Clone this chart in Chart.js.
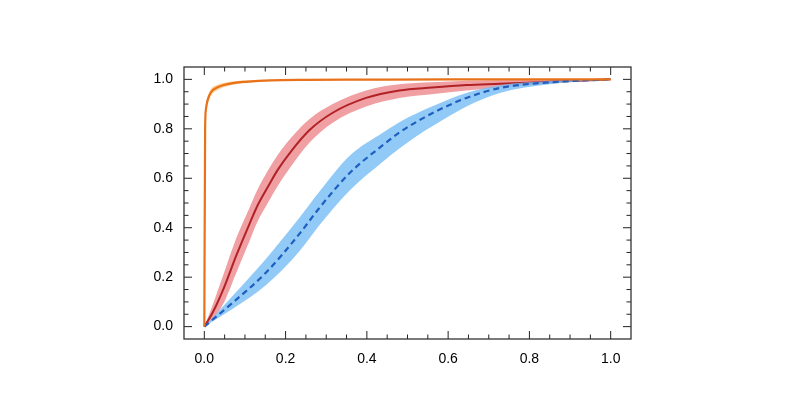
<!DOCTYPE html>
<html>
<head>
<meta charset="utf-8">
<script src="https://cdn.jsdelivr.net/npm/chart.js@4"></script>
<style>
    html, body { margin: 0; padding: 0; background: #fff; }
    #wrap { width: 800px; height: 411px; position: relative; }
</style>
</head>
<body>
<div id="wrap"><canvas id="chart"></canvas></div>
<script>
const tickValues = [0.0, 0.2, 0.4, 0.6, 0.8, 1.0];
const minorStep = 0.05;

const redX    = [0, 0.02, 0.049, 0.078, 0.111, 0.131, 0.158, 0.181, 0.214, 0.259, 0.316, 0.398, 0.48, 0.56, 0.645, 0.727, 0.85, 1.0];
const redMean = [0, 0.055, 0.16, 0.285, 0.415, 0.49, 0.57, 0.635, 0.71, 0.795, 0.865, 0.925, 0.955, 0.967, 0.977, 0.982, 0.99, 1.0];
const redLow  = [0, 0.03, 0.1, 0.215, 0.345, 0.425, 0.505, 0.57, 0.65, 0.745, 0.825, 0.89, 0.925, 0.94, 0.955, 0.967, 0.982, 1.0];
const redHigh = [0, 0.085, 0.22, 0.355, 0.48, 0.555, 0.635, 0.695, 0.765, 0.84, 0.9, 0.955, 0.98, 0.988, 0.994, 0.996, 0.998, 1.0];

const blueX    = [0, 0.07, 0.152, 0.234, 0.283, 0.357, 0.44, 0.48, 0.522, 0.563, 0.645, 0.727, 0.85, 1.0];
const blueMean = [0, 0.097, 0.219, 0.375, 0.48, 0.62, 0.735, 0.785, 0.828, 0.865, 0.925, 0.965, 0.988, 1.0];
const blueLow  = [0, 0.072, 0.168, 0.305, 0.41, 0.55, 0.668, 0.72, 0.77, 0.812, 0.89, 0.945, 0.98, 1.0];
const blueHigh = [0, 0.125, 0.275, 0.44, 0.545, 0.69, 0.785, 0.827, 0.862, 0.892, 0.945, 0.976, 0.993, 1.0];

const orangeX    = [0, 0.002, 0.004, 0.008, 0.016, 0.033, 0.05, 0.074, 0.1, 0.164, 0.25, 0.4, 0.6, 0.8, 1.0];
const orangeMean = [0, 0.8, 0.88, 0.915, 0.947, 0.968, 0.978, 0.986, 0.99, 0.996, 0.998, 0.999, 1.0, 1.0, 1.0];
const orangeLow  = [0, 0.78, 0.86, 0.9, 0.933, 0.957, 0.969, 0.979, 0.985, 0.993, 0.996, 0.998, 1.0, 1.0, 1.0];
const orangeHigh = [0, 0.82, 0.9, 0.93, 0.96, 0.978, 0.986, 0.992, 0.995, 0.998, 0.999, 1.0, 1.0, 1.0, 1.0];

function toPoints(xs, ys) {
    return xs.map((x, i) => ({ x, y: ys[i] }));
}

// low bound, high bound filled down to it, then the mean line on top
// lower `order` is drawn later (on top) in Chart.js
function bandDatasets(xs, low, high, mean, bandColor, lineColor, lineWidth, dash, order) {
    return [
        {
            data: toPoints(xs, low),
            borderWidth: 0,
            borderColor: 'transparent',
            pointRadius: 0,
            fill: false,
            order: order + 2,
            cubicInterpolationMode: 'monotone'
        },
        {
            data: toPoints(xs, high),
            borderWidth: 0,
            borderColor: 'transparent',
            backgroundColor: bandColor,
            pointRadius: 0,
            fill: '-1',
            order: order + 1,
            cubicInterpolationMode: 'monotone'
        },
        {
            data: toPoints(xs, mean),
            borderColor: lineColor,
            borderWidth: lineWidth,
            borderDash: dash,
            pointRadius: 0,
            fill: false,
            order,
            cubicInterpolationMode: 'monotone'
        }
    ];
}

// inward ticks on all four sides plus the box
const frameTicks = {
    id: 'frameTicks',
    afterDraw(chart) {
        const { ctx, chartArea: a, scales } = chart;
        const xs = scales.x;
        const ys = scales.y;
        ctx.save();
        ctx.strokeStyle = '#222';
        ctx.lineWidth = 1;
        const minors = [];
        for (let v = 0; v <= 1.0001; v += minorStep) {
            minors.push(Math.round(v * 100) / 100);
        }
        for (const v of minors) {
            const major = tickValues.some((t) => Math.abs(t - v) < 1e-6);
            const len = major ? 8 : 4.5;
            const px = xs.getPixelForValue(v);
            const py = ys.getPixelForValue(v);
            ctx.beginPath();
            ctx.moveTo(px, a.bottom);
            ctx.lineTo(px, a.bottom - len);
            ctx.moveTo(px, a.top);
            ctx.lineTo(px, a.top + len);
            ctx.moveTo(a.left, py);
            ctx.lineTo(a.left + len, py);
            ctx.moveTo(a.right, py);
            ctx.lineTo(a.right - len, py);
            ctx.stroke();
        }
        ctx.strokeStyle = '#333';
        ctx.lineWidth = 1.3;
        ctx.strokeRect(a.left, a.top, a.right - a.left, a.bottom - a.top);
        ctx.restore();
    }
};

function setTicks(scale) {
    scale.ticks = tickValues.map((value) => ({ value }));
}

const tickFont = { family: '"Liberation Sans", Arial, sans-serif', size: 14 };

new Chart(document.getElementById('chart'), {
    type: 'line',
    data: {
        datasets: [
            ...bandDatasets(redX, redLow, redHigh, redMean, 'rgba(230, 95, 102, 0.6)', '#b02226', 2, [], 7),
            ...bandDatasets(blueX, blueLow, blueHigh, blueMean, 'rgba(118, 188, 245, 0.8)', '#1f5fbf', 2.2, [6, 4], 4),
            ...bandDatasets(orangeX, orangeLow, orangeHigh, orangeMean, 'rgba(255, 175, 70, 0.6)', '#e8711a', 2.2, [], 1)
        ]
    },
    options: {
        responsive: true,
        maintainAspectRatio: false,
        animation: false,
        layout: {
            padding: { left: 140, right: 169, top: 67, bottom: 44 }
        },
        plugins: {
            legend: { display: false },
            tooltip: { enabled: false }
        },
        scales: {
            x: {
                type: 'linear',
                min: -0.05,
                max: 1.05,
                afterBuildTicks: setTicks,
                afterFit: (s) => { s.height = 28; },
                grid: { display: false },
                border: { display: false },
                ticks: {
                    padding: 4,
                    color: '#000',
                    font: tickFont,
                    maxRotation: 0,
                    callback: (v) => Number(v).toFixed(1)
                }
            },
            y: {
                type: 'linear',
                min: -0.05,
                max: 1.05,
                afterBuildTicks: setTicks,
                afterFit: (s) => { s.width = 44; },
                grid: { display: false },
                border: { display: false },
                ticks: {
                    padding: 3,
                    color: '#000',
                    font: tickFont,
                    callback: (v) => Number(v).toFixed(1)
                }
            }
        }
    },
    plugins: [frameTicks]
});
</script>
</body>
</html>
